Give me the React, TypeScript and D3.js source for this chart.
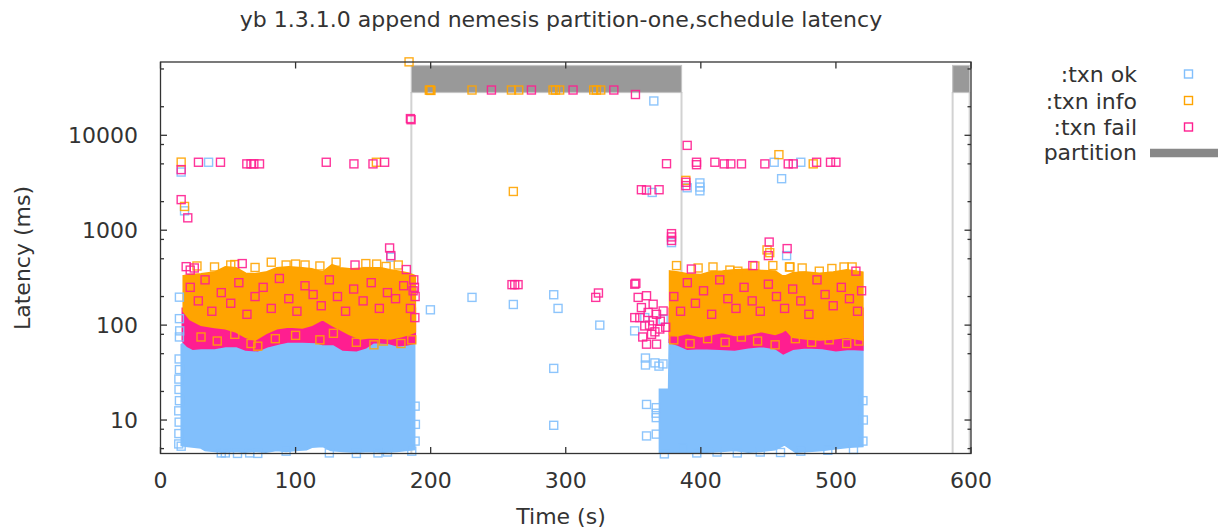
import React from 'react';
import * as d3 from 'd3';

// ---------- data ----------
const title = 'yb 1.3.1.0 append nemesis partition-one,schedule latency';
const xTicks = [0, 100, 200, 300, 400, 500, 600];
const yTicks = [10, 100, 1000, 10000];
const yMinorFactors = [2, 5, 8];
const seriesNames = [':txn ok', ':txn info', ':txn fail'];
const partitions: [number, number][] = [[185.7, 385.7], [586.4, 599]];

// dense cores: [time s, low latency ms, high latency ms]
const okBand1 = [[15.5,5.4,62],[20,5.3,70],[25,5.2,70],[30,5.1,70],[33,4.8,70],[40,4.7,70],[47,4.6,70],[55,4.7,70],[62,4.6,70],[70,4.7,70],[78,4.6,70],[86,4.8,70],[93,4.7,70],[100,4.8,70],[108,4.9,70],[112,5.2,70],[120,5.3,70],[126,4.8,70],[135,4.7,70],[145,4.6,70],[155,4.7,70],[165,4.6,70],[175,4.7,70],[182,4.8,70],[188,4.9,70]];
const okBand2 = [[369.5,4.5,21],[376.3,4.5,21],[376.8,4.5,70],[385,4.6,70],[395,4.5,70],[405,4.6,70],[415,4.7,70],[425,4.8,70],[435,4.6,70],[445,4.7,70],[455,4.9,70],[462,5.5,70],[470,4.6,70],[480,4.7,70],[490,4.8,70],[500,5.0,70],[510,5.2,70],[519.8,5.3,70]];
const failBand1 = [[16.3,68,150],[20,60,150],[24,56,150],[30,57,150],[40,57,150],[48,60,150],[56,60,150],[63,55,150],[72,54,150],[80,60,150],[88,64,150],[95,67,150],[105,67,150],[115,66,150],[120,63,150],[128,63,150],[135,55,150],[145,54,150],[152,58,150],[158,66,150],[168,65,150],[175,61,150],[182,62,150],[188.5,65,150]];
const failBand2 = [[376.8,66,150],[383,62,150],[390,56,150],[400,57,150],[414,56,150],[425,55,150],[435,58,150],[445,60,150],[455,57,150],[461,50,150],[468,56,150],[478,58,150],[490,57,150],[500,54,150],[510,56,150],[519.8,55,150]];
const infoBand1 = [[17,140,330],[22,115,340],[30,100,345],[40,95,360],[48,92,410],[56,85,400],[63,75,350],[70,70,345],[78,82,360],[86,92,400],[95,96,410],[105,94,400],[112,100,390],[120,115,360],[127,100,430],[133,90,400],[140,80,390],[148,72,395],[155,74,400],[163,73,400],[170,72,380],[178,76,365],[184,80,350],[188.5,85,330]];
const infoBand2 = [[377,80,370],[383,78,360],[390,82,345],[400,76,340],[408,80,365],[416,84,370],[425,78,380],[435,80,385],[445,86,375],[455,80,370],[460,85,330],[463,90,330],[468,75,355],[478,72,360],[488,70,350],[498,72,360],[508,75,380],[519.8,70,360]];

// individual points: [time s, latency ms]
const okPoints = [[13.5,5.6],[13.6,7.2],[13.8,9.5],[13.5,12.5],[14,16],[13.7,21],[13.6,27],[14,34],[13.8,44],[14,75],[14.2,87],[14,117],[14,197],[15.3,4100],[17.8,1600],[35.6,5200],[15.3,5.3],
[45,4.5],[48,4.5],[57,4.45],[66,4.5],[72,4.45],[93,4.7],[125,4.5],[145,4.45],[161,4.5],[168,4.6],[186,4.7],[188.5,6],[188.7,9],[188.5,14],
[199.8,145],[230.6,196],[261.2,165],[291.1,209],[294.3,150],[291.1,35],[291.1,8.8],[325.2,100],[365.2,23000],[351,87],[358.5,120],[372.1,115],[359,45],[359,38],[366,40],[369,37],[372,39],[359.8,14.6],[367,13.5],[367,11.8],[367,10.6],[359.8,6.8],[367,7.1],[373,4.4],[364,2500],[378.3,740],[389.9,2800],[399.3,3150],[399.3,2850],[399.3,2600],[454.3,5200],[459.8,3490],[474,5200],[463.5,540],[170.5,520],
[387,5.1],[397,4.5],[412,4.6],[427,4.5],[444,4.6],[459,4.55],[474,4.7],[494,4.8],[513,4.9],[520,6],[520.3,10],[520,16]];
const infoPoints = [[15.3,5220],[17.8,1780],[159.8,5200],[184,59400],[199,29900],[199.6,30000],[200.2,29700],[230.6,30000],[259.8,30000],[265.2,30000],[290.6,30000],[292.4,30000],[295.5,30000],[320.7,30000],[322.7,30000],[325.9,30000],[261.2,2560],[457.8,6250],[483.2,5000],[388.9,3350],[449,620],[451,580],[466,410],
[52,430],[55,435],[82,460],[93,430],[107,430],[130,460],[152,445],[167,415],[176,430],[27,420],[40,410],[118,420],[100,440],[70,405],[160,440],
[30,75],[42,68],[55,80],[67,64],[72,60],[85,72],[100,78],[118,70],[128,82],[145,66],[158,62],[165,68],[178,64],[186,70],
[382,424],[409,410],[421.5,380],[427.4,370],[453.3,424],[465.6,410],[487.7,370],[506,410],[512,410],[398,400],[440,420],[475,400],[497,395],
[380,70],[392,64],[405,72],[418,66],[430,75],[442,68],[455,62],[470,72],[482,66],[495,70],[508,64],[517,68]];
const failPoints = [[15.3,4350],[15.3,2100],[20.2,1350],[28.1,5200],[44.4,5200],[63.9,5000],[67,5000],[69.1,5000],[73.3,5000],[122.7,5200],[143.2,5000],[157.3,5000],[165.9,5200],[169.6,650],[170.5,540],[185,15000],[185.5,14600],
[245,30000],[274.6,30000],[305.4,30000],[335.6,30000],[351.6,26900],
[260.2,267],[262.2,267],[264.7,267],[322.2,196],[324.2,218],[351.9,276],
[356,2670],[359.8,2650],[369.1,2670],[374.6,5020],[389.9,7830],[396.8,5200],[396.8,4900],[410.4,5200],[417.3,5000],[422.2,5000],[430.1,5000],[447.4,5000],[464.7,5000],[468.4,5000],[485.7,5200],[496,5200],[500,5200],[388.9,3200],[388.9,2950],[378.3,920],[378.3,850],[378.3,780],[450.6,750],[450,540],[463.9,640],
[353.6,196],[359.8,204],[364.7,166],[372.1,141],[354.8,120],[358.5,98],[364.7,111],[369.6,91],[359.8,63],[367.2,63],[351.1,120],[363.5,80],[356,153],[367.2,130],[361,136],[351.1,270],[362,100],[370,110],[357,75],[366,85],[374,95],
[19,413],[22,380],[25,400],[60.5,445],[144,430],[182,385],[187.5,300],[188,250],[188.5,200],[188.3,120],
[22,250],[28,180],[33,300],[38,140],[45,220],[52,170],[58,280],[64,130],[70,200],[76,250],[82,150],[88,310],[95,190],[101,140],[107,260],[113,210],[119,160],[125,300],[131,200],[137,140],[143,240],[150,180],[156,280],[162,150],[168,220],[174,190],[180,260],[185,150],[187,230],
[393,390],[438.5,424],[514.8,370],
[380,200],[385,140],[390,280],[396,170],[402,230],[408,130],[414,300],[420,190],[426,150],[432,250],[438,180],[444,140],[450,270],[456,200],[462,150],[468,240],[474,180],[480,130],[486,300],[492,210],[498,160],[504,250],[510,190],[516,140],[519,230]];

const COLORS = { ok: '#81BFFC', info: '#FFA400', fail: '#FF1E90' };
const FONT = '"DejaVu Sans", Verdana, sans-serif';
const TEXT = '#333';
const FS = 22;

export default function App() {
  const W = 1218, H = 529;
  const L = 160.5, R = 971, T = 62, B = 453.5;
  const x = d3.scaleLinear().domain([0, 600]).range([L, R]);
  const y = d3.scaleLog().domain([4.44, 59200]).range([B, T]);
  const area = d3.area<number[]>().x(d => x(d[0])).y0(d => y(d[1])).y1(d => y(d[2]));

  const minor: number[] = [];
  for (let p = 0; p <= 4; p++) for (const f of yMinorFactors) {
    const v = f * Math.pow(10, p);
    if (v > 4.44 && v < 59200) minor.push(v);
  }

  const sq = (pts: number[][], color: string, key: string) =>
    pts.map((d, i) => (
      <rect key={key + i} x={x(d[0]) - 4} y={y(d[1]) - 4} width={8} height={8}
        fill="none" stroke={color} strokeWidth={1.4} strokeOpacity={0.9} />
    ));

  const bands = (arr: number[][][], color: string, key: string) =>
    arr.map((b, i) => (
      <path key={key + i} d={area(b) || ''} fill={color} stroke={color} strokeWidth={2} />
    ));

  const legendRows = [74, 100.5, 127];
  const legendColors = [COLORS.ok, COLORS.info, COLORS.fail];

  return (
    <svg width={W} height={H} style={{ position: 'absolute', left: 0, top: 0, background: '#fff' }}
      fontFamily={FONT}>
      <rect x={0} y={0} width={W} height={H} fill="#fff" />
      <text x={561} y={27} textAnchor="middle" fontSize={FS} fill={TEXT}>{title}</text>

      {/* partitions */}
      {partitions.map((p, i) => (
        <g key={'p' + i}>
          <line x1={x(p[0])} x2={x(p[0])} y1={T + 30} y2={B} stroke="#d2d2d2" strokeWidth={2} />
          <line x1={x(p[1])} x2={x(p[1])} y1={T + 30} y2={B} stroke="#d2d2d2" strokeWidth={2} />
          <rect x={x(p[0])} y={T + 3.5} width={x(p[1]) - x(p[0])} height={27} fill="#999" stroke="#c4c4c4" strokeWidth={1.2} />
        </g>
      ))}

      {/* dense cores */}
      {bands([okBand1, okBand2], COLORS.ok, 'ob')}
      {bands([failBand1, failBand2], COLORS.fail, 'fb')}
      {bands([infoBand1, infoBand2], COLORS.info, 'ib')}

      {sq(okPoints, COLORS.ok, 'o')}
      {sq(infoPoints, COLORS.info, 'i')}
      {sq(failPoints, COLORS.fail, 'f')}

      {/* frame */}
      <rect x={L} y={T} width={R - L} height={B - T} fill="none" stroke="#333" strokeWidth={1.3} />

      {/* x ticks */}
      {xTicks.map(v => (
        <g key={'x' + v}>
          <line x1={x(v)} x2={x(v)} y1={B} y2={B - 6.5} stroke="#333" strokeWidth={1.3} />
          <line x1={x(v)} x2={x(v)} y1={T} y2={T + 6.5} stroke="#333" strokeWidth={1.3} />
          <text x={x(v)} y={488} textAnchor="middle" fontSize={FS} fill={TEXT}>{v}</text>
        </g>
      ))}
      {/* y ticks */}
      {yTicks.map(v => (
        <g key={'y' + v}>
          <line x1={L} x2={L + 6.5} y1={y(v)} y2={y(v)} stroke="#333" strokeWidth={1.3} />
          <line x1={R} x2={R - 6.5} y1={y(v)} y2={y(v)} stroke="#333" strokeWidth={1.3} />
          <text x={138} y={y(v) + 8} textAnchor="end" fontSize={FS} fill={TEXT}>{v}</text>
        </g>
      ))}
      {minor.map(v => (
        <g key={'m' + v}>
          <line x1={L} x2={L + 3.5} y1={y(v)} y2={y(v)} stroke="#333" strokeWidth={1.3} />
          <line x1={R} x2={R - 3.5} y1={y(v)} y2={y(v)} stroke="#333" strokeWidth={1.3} />
        </g>
      ))}

      <text x={561} y={524} textAnchor="middle" fontSize={FS} fill={TEXT}>Time (s)</text>
      <text transform="translate(30,258) rotate(-90)" textAnchor="middle" fontSize={FS} fill={TEXT}>Latency (ms)</text>

      {/* legend */}
      {seriesNames.map((n, i) => (
        <g key={'l' + i}>
          <text x={1137} y={legendRows[i] + 8} textAnchor="end" fontSize={FS} fill={TEXT}>{n}</text>
          <rect x={1184.5} y={legendRows[i] - 4} width={8} height={8} fill="none" stroke={legendColors[i]} strokeWidth={1.4} />
        </g>
      ))}
      <text x={1137} y={160} textAnchor="end" fontSize={FS} fill={TEXT}>partition</text>
      <line x1={1150} x2={1218} y1={153} y2={153} stroke="#888" strokeWidth={8.5} />
    </svg>
  );
}
